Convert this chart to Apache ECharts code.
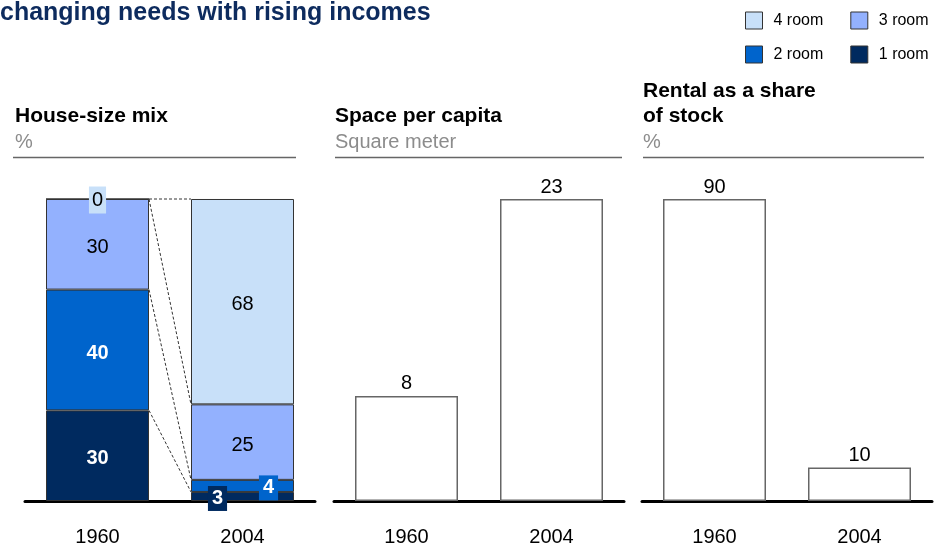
<!DOCTYPE html>
<html><head><meta charset="utf-8">
<script src="https://cdn.jsdelivr.net/npm/echarts@6/dist/echarts.min.js"></script>
<style>html,body{margin:0;padding:0;background:#fff}#c{width:934px;height:547px}</style>
</head><body><div id="c"></div>
<script>
// ---- data ----
const years = ['1960', '2004'];
const roomNames = ['1 room', '2 room', '3 room', '4 room'];
const room1 = [30, 3];
const room2 = [40, 4];
const room3 = [30, 25];
const room4 = [0, 68];
const spacePerCapita = [8, 23];
const rentalShare = [90, 10];

// ---- styling ----
const FONT = 'Arial, "Liberation Sans", Helvetica, sans-serif';
const C1 = '#002a5f', C2 = '#0064cc', C3 = '#93b1fe', C4 = '#c8e0f9';
const BAR_W = 103;

const mixSeries = [room1, room2, room3, room4];
const mixColors = [C1, C2, C3, C4];

// label settings per segment
function segLabel(seriesIdx, dataIdx) {
  const base = {show: true, position: 'inside', fontFamily: FONT, fontSize: 20, color: '#000', offset: [0, 3]};
  if (seriesIdx <= 1) { base.color = '#fff'; base.fontWeight = 'bold'; }
  if (seriesIdx === 0 && dataIdx === 1) {
    Object.assign(base, {backgroundColor: C1, padding: [3, 4, 2, 4], offset: [-25, 2]});
  }
  if (seriesIdx === 1 && dataIdx === 1) {
    Object.assign(base, {backgroundColor: C2, padding: [3, 4, 2, 4], offset: [26, 2]});
  }
  if (seriesIdx === 3 && dataIdx === 0) {
    Object.assign(base, {backgroundColor: C4, padding: [4, 3, 3, 3], offset: [0, 1]});
  }
  return base;
}

const series = [];
mixSeries.forEach((arr, si) => {
  series.push({
    name: roomNames[si], type: 'bar', stack: 'mix', xAxisIndex: 0, yAxisIndex: 0,
    barWidth: BAR_W, z: 2,
    itemStyle: {color: mixColors[si], borderColor: '#333', borderWidth: 1},
    data: arr.map((v, di) => ({value: v, label: segLabel(si, di)})),
    emphasis: {disabled: true}
  });
});

// connector (dashed) lines between cumulative boundaries
const cum = years.map((_, di) => {
  let s = 0; return mixSeries.map(a => (s += a[di]));
});
const connectors = mixSeries.map((_, k) => [0, cum[0][k], cum[1][k]]);
series.push({
  type: 'custom', xAxisIndex: 0, yAxisIndex: 0, silent: true, z: 1,
  encode: {x: 0, y: 1},
  data: connectors,
  renderItem(params, api) {
    const a = api.coord([0, api.value(1)]);
    const b = api.coord([1, api.value(2)]);
    const hw = BAR_W / 2;
    return {type: 'line', shape: {x1: a[0] + hw, y1: a[1], x2: b[0] - hw, y2: b[1]},
      style: {stroke: '#000', lineWidth: 0.8, lineDash: [3, 2]}};
  }
});

const plainBar = (data, xi) => ({
  type: 'bar', xAxisIndex: xi, yAxisIndex: xi, barWidth: BAR_W,
  itemStyle: {color: '#fff', borderColor: '#666', borderWidth: 1.5},
  label: {show: true, position: 'top', distance: 2, fontFamily: FONT, fontSize: 20, color: '#000'},
  emphasis: {disabled: true},
  data: data
});
series.push(plainBar(spacePerCapita, 1));
series.push(plainBar(rentalShare, 2));

const grids = [
  {left: 25, width: 290, top: 199, bottom: 46},
  {left: 334, width: 290, top: 199, bottom: 46},
  {left: 642, width: 290, top: 199, bottom: 46}
];
const xAxes = grids.map((g, i) => ({
  type: 'category', gridIndex: i, data: years,
  axisLine: {lineStyle: {color: '#000', width: 3}},
  axisTick: {show: false},
  axisLabel: {fontFamily: FONT, fontSize: 20, color: '#000', margin: 26}
}));
const yMax = [100, 23, 90];
const yAxes = grids.map((g, i) => ({
  type: 'value', gridIndex: i, min: 0, max: yMax[i], show: false, splitLine: {show: false}
}));

const hLine = (x1, x2) => ({
  type: 'line', shape: {x1: x1, y1: 157.5, x2: x2, y2: 157.5},
  style: {stroke: '#666', lineWidth: 1.5}
});

const legendCommon = {
  left: 745, width: 189, padding: 0, orient: 'horizontal',
  icon: 'rect', itemWidth: 17, itemHeight: 17, itemGap: 27,
  textStyle: {fontFamily: FONT, fontSize: 16, color: '#000', padding: [0, 0, 0, 6]},
  itemStyle: {borderColor: '#333', borderWidth: 1},
  selectedMode: false
};

const option = {
  animation: false,
  backgroundColor: '#fff',
  title: {
    text: 'changing needs with rising incomes', left: 0, top: 1, padding: 0,
    textStyle: {fontFamily: FONT, fontSize: 25, fontWeight: 'bold', color: '#0d2b5e'}
  },
  legend: [
    Object.assign({}, legendCommon, {top: 11.5, data: ['4 room', '3 room']}),
    Object.assign({}, legendCommon, {top: 45.5, data: ['2 room', '1 room']})
  ],
  grid: grids,
  xAxis: xAxes,
  yAxis: yAxes,
  series: series,
  graphic: [
    {type: 'text', x: 15, y: 116, style: {text: 'House-size mix', font: 'bold 21px ' + FONT, fill: '#000', verticalAlign: 'middle'}},
    {type: 'text', x: 15, y: 142, style: {text: '%', font: '20px ' + FONT, fill: '#8c8c8c', verticalAlign: 'middle'}},
    {type: 'text', x: 335, y: 116, style: {text: 'Space per capita', font: 'bold 21px ' + FONT, fill: '#000', verticalAlign: 'middle'}},
    {type: 'text', x: 335, y: 142, style: {text: 'Square meter', font: '20px ' + FONT, fill: '#8c8c8c', verticalAlign: 'middle'}},
    {type: 'text', x: 643, y: 91, style: {text: 'Rental as a share', font: 'bold 21px ' + FONT, fill: '#000', verticalAlign: 'middle'}},
    {type: 'text', x: 643, y: 116, style: {text: 'of stock', font: 'bold 21px ' + FONT, fill: '#000', verticalAlign: 'middle'}},
    {type: 'text', x: 643, y: 142, style: {text: '%', font: '20px ' + FONT, fill: '#8c8c8c', verticalAlign: 'middle'}},
    hLine(13, 296), hLine(335, 622), hLine(643, 924)
  ]
};

const chart = echarts.init(document.getElementById('c'), null, {renderer: 'canvas'});
chart.setOption(option);
</script>
</body></html>
